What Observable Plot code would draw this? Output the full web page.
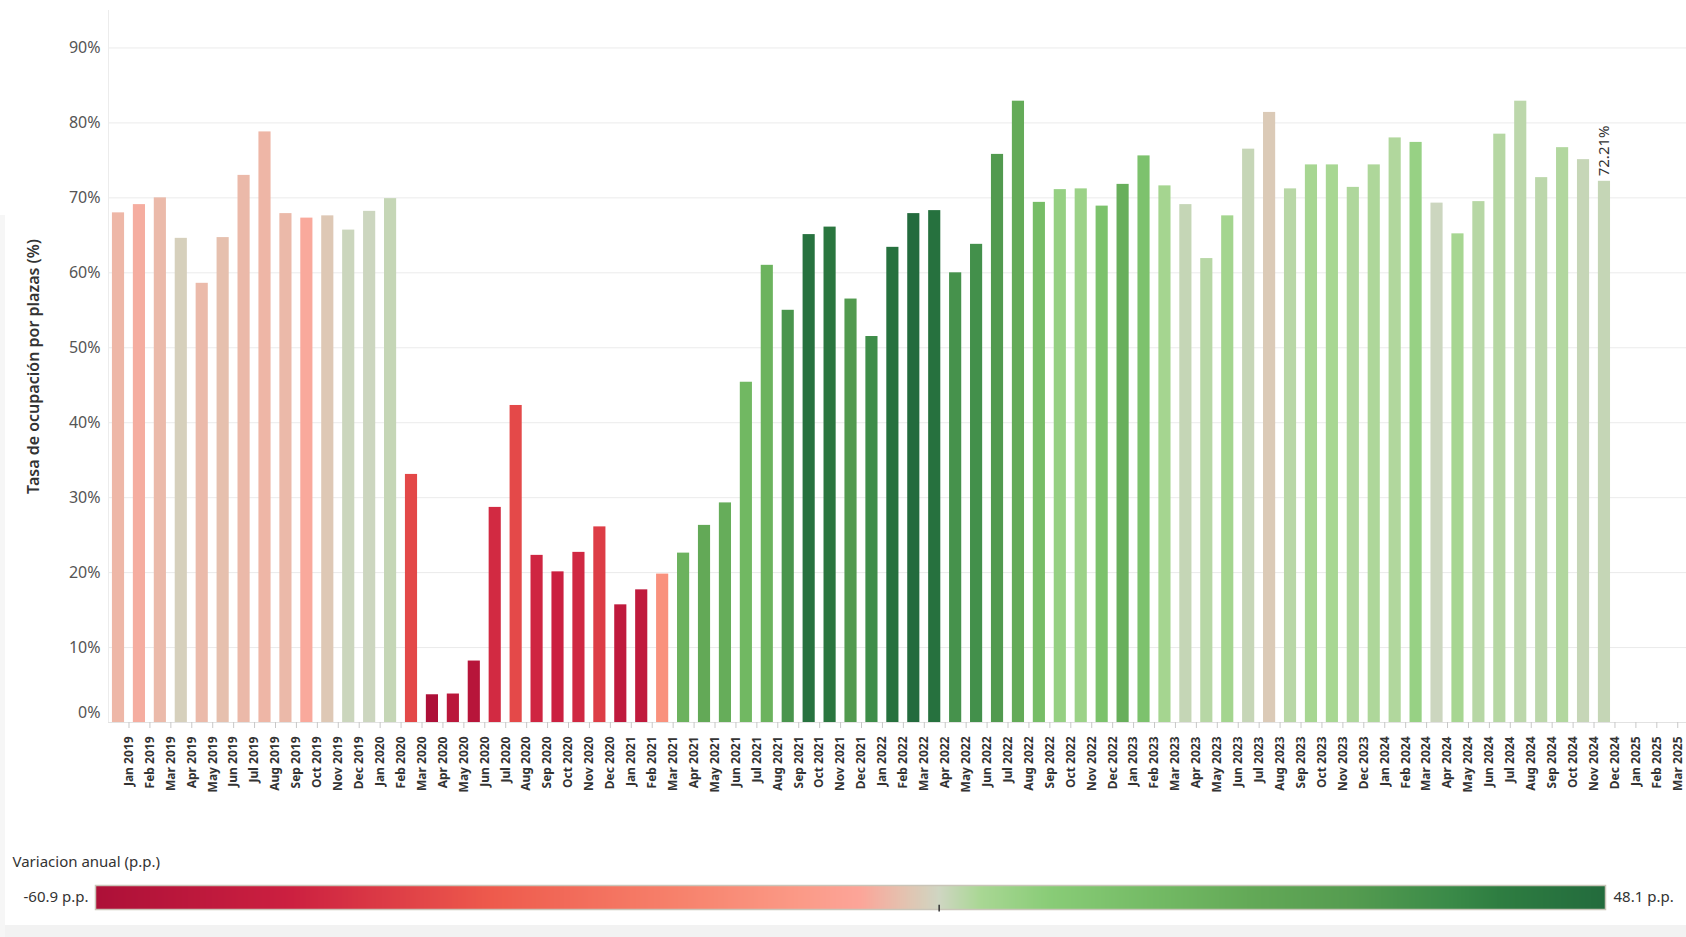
<!DOCTYPE html>
<html><head><meta charset="utf-8">
<script src="https://cdn.jsdelivr.net/npm/d3@7"></script>
<script src="https://cdn.jsdelivr.net/npm/@observablehq/plot@0.6"></script>
<style>
html,body{margin:0;padding:0;background:#fff;width:1686px;height:937px;overflow:hidden;font-family:"Noto Sans",sans-serif;}
#chart{position:absolute;left:0;top:0;}
#legend{position:absolute;left:0;top:845px;}
#strip{position:absolute;left:0;top:925px;width:1686px;height:12px;background:#f2f2f2;}
#lstrip{position:absolute;left:0;top:215px;width:5px;height:722px;background:#f6f6f6;}
</style></head><body>
<div id="chart"></div><div id="legend"></div><div id="strip"></div><div id="lstrip"></div>
<script>
const months = [
  "Jan 2019","Feb 2019","Mar 2019","Apr 2019","May 2019","Jun 2019","Jul 2019","Aug 2019","Sep 2019","Oct 2019","Nov 2019","Dec 2019",
  "Jan 2020","Feb 2020","Mar 2020","Apr 2020","May 2020","Jun 2020","Jul 2020","Aug 2020","Sep 2020","Oct 2020","Nov 2020","Dec 2020",
  "Jan 2021","Feb 2021","Mar 2021","Apr 2021","May 2021","Jun 2021","Jul 2021","Aug 2021","Sep 2021","Oct 2021","Nov 2021","Dec 2021",
  "Jan 2022","Feb 2022","Mar 2022","Apr 2022","May 2022","Jun 2022","Jul 2022","Aug 2022","Sep 2022","Oct 2022","Nov 2022","Dec 2022",
  "Jan 2023","Feb 2023","Mar 2023","Apr 2023","May 2023","Jun 2023","Jul 2023","Aug 2023","Sep 2023","Oct 2023","Nov 2023","Dec 2023",
  "Jan 2024","Feb 2024","Mar 2024","Apr 2024","May 2024","Jun 2024","Jul 2024","Aug 2024","Sep 2024","Oct 2024","Nov 2024","Dec 2024",
  "Jan 2025","Feb 2025","Mar 2025"
];

// Tasa de ocupación por plazas (%)
const occ2019 = [68.0, 69.1, 70.0, 64.6, 58.6, 64.7, 73.0, 78.8, 67.9, 67.3, 67.6, 65.7];
const occ2020 = [68.2, 69.9, 33.1, 3.7, 3.8, 8.2, 28.7, 42.3, 22.3, 20.1, 22.7, 26.1];
const occ2021 = [15.7, 17.7, 19.8, 22.6, 26.3, 29.3, 45.4, 61.0, 55.0, 65.1, 66.1, 56.5];
const occ2022 = [51.5, 63.4, 67.9, 68.3, 60.0, 63.8, 75.8, 82.9, 69.4, 71.1, 71.2, 68.9];
const occ2023 = [71.8, 75.6, 71.6, 69.1, 61.9, 67.6, 76.5, 81.4, 71.2, 74.4, 74.4, 71.4];
const occ2024 = [74.4, 78.0, 77.4, 69.3, 65.2, 69.5, 78.5, 82.9, 72.7, 76.7, 75.1, 72.21];

// Variación anual (p.p.)
const var2019 = [-3.8, -4.8, -3.4, -0.8, -3.4, -2.8, -3.5, -3.9, -3.5, -5.3, -1.8, 0.3];
const var2020 = [0.2, 0.8, -36.9, -60.9, -54.8, -56.5, -44.3, -36.5, -45.6, -47.2, -44.9, -39.6];
const var2021 = [-52.5, -52.2, -13.3, 18.9, 22.5, 21.1, 16.7, 18.7, 32.7, 45.0, 43.4, 30.4];
const var2022 = [35.8, 45.7, 48.1, 45.7, 33.7, 34.5, 30.4, 21.9, 14.4, 6.0, 5.1, 12.4];
const var2023 = [20.3, 12.2, 3.7, 0.8, 1.9, 3.8, 0.7, -1.5, 1.8, 3.3, 3.2, 2.5];
const var2024 = [2.6, 2.4, 5.8, 0.2, 3.3, 1.9, 2.0, 1.5, 1.5, 2.3, 0.7, 0.8];

const yTicks = [10, 20, 30, 40, 50, 60, 70, 80, 90];
const yTitle = "Tasa de ocupación por plazas (%)";
const legendTitle = "Variacion anual (p.p.)";
const legendDomain = [-60.9, 48.1];

// colour ramp (Red-Green diverging, pivot at 0)
const colorStops = [-60.9, -46.8, -32.4, -18.7, -10.0, -5.7, -2.8, 0, 3.0, 8.0, 15.3, 22.5, 29.7, 37.0, 40.5, 48.1];
const colorRange = ["#ad1038","#cc2040","#ee5a4c","#f7826c","#fb9a87","#fca599","#e6c0ae","#cfd6c2","#a9d794","#89cc77","#74bb65","#63a957","#559c50","#3a8a48","#2e7d41","#236b3d"];

const occupancy = [...occ2019, ...occ2020, ...occ2021, ...occ2022, ...occ2023, ...occ2024];
const variation = [...var2019, ...var2020, ...var2021, ...var2022, ...var2023, ...var2024];
const data = occupancy.map((v, i) => ({month: months[i], value: v, variation: variation[i]}));
const lastPoint = data[data.length - 1];

const colorScale = {type: "linear", domain: colorStops, range: colorRange, interpolate: "rgb"};
const font = '"Noto Sans", sans-serif';

const chart = Plot.plot({
  width: 1686, height: 800,
  marginTop: 10, marginBottom: 78, marginLeft: 108, marginRight: 0,
  style: {fontFamily: font, background: "transparent", overflow: "visible"},
  x: {type: "band", domain: months, range: [107.74, 1677], paddingInner: 0.42, paddingOuter: 0.2, round: false, axis: null},
  y: {domain: [0, 95], axis: null},
  color: colorScale,
  marks: [
    Plot.gridY(yTicks, {stroke: "#ebebeb", strokeOpacity: 1}),
    Plot.frame({anchor: "left", stroke: "#ececec"}),
    Plot.ruleY([0], {stroke: "#e2e2e2"}),
    Plot.barY(data, {x: "month", y: "value", fill: "variation"}),
    Plot.text([lastPoint], {x: "month", y: "value", text: d => d.value.toFixed(2) + "%", rotate: -90, textAnchor: "start", dy: -5, fontSize: 15, fill: "#333"}),
    Plot.axisY(yTicks, {tickSize: 0, tickPadding: 8, tickFormat: d => d + "%", fontSize: 16, fill: "#555", label: null}),
    Plot.axisY([0], {tickSize: 0, tickPadding: 8, tickFormat: d => d + "%", fontSize: 16, fill: "#555", dy: -10, label: null}),
    Plot.axisX(months, {tickSize: 6, tickPadding: 8, tickRotate: -90, dx: 10.5, stroke: "#c8c8c8", fill: "#333", fontSize: 12, fontWeight: "bold", label: null}),
    Plot.text([yTitle], {frameAnchor: "left", rotate: -90, dx: -75, textAnchor: "middle", fontSize: 16, fontWeight: 600, fill: "#333"})
  ]
});
document.getElementById("chart").appendChild(chart);

const legend = Plot.plot({
  width: 1686, height: 80,
  marginTop: 40, marginBottom: 16, marginLeft: 95, marginRight: 81,
  style: {fontFamily: font, background: "transparent", overflow: "visible"},
  x: {domain: legendDomain, axis: null},
  y: {domain: [0, 1], axis: null},
  color: colorScale,
  marks: [
    Plot.raster({x1: legendDomain[0], x2: legendDomain[1], y1: 0, y2: 1, width: 755, height: 1, fill: (x, y) => x, imageRendering: "auto"}),
    Plot.frame({stroke: "#c9c5b9", strokeWidth: 1.5}),
    Plot.ruleX([0], {y1: -0.1, y2: 0.18, stroke: "#333", strokeWidth: 1.5}),
    Plot.text([legendTitle], {frameAnchor: "top-left", dx: -83, dy: -23, textAnchor: "start", lineAnchor: "middle", fontSize: 15, fill: "#333"}),
    Plot.text([legendDomain[0].toFixed(1) + " p.p."], {frameAnchor: "left", dx: -7, textAnchor: "end", fontSize: 15, fill: "#333"}),
    Plot.text([legendDomain[1].toFixed(1) + " p.p."], {frameAnchor: "right", dx: 8, textAnchor: "start", fontSize: 15, fill: "#333"})
  ]
});
document.getElementById("legend").appendChild(legend);
</script>
</body></html>
